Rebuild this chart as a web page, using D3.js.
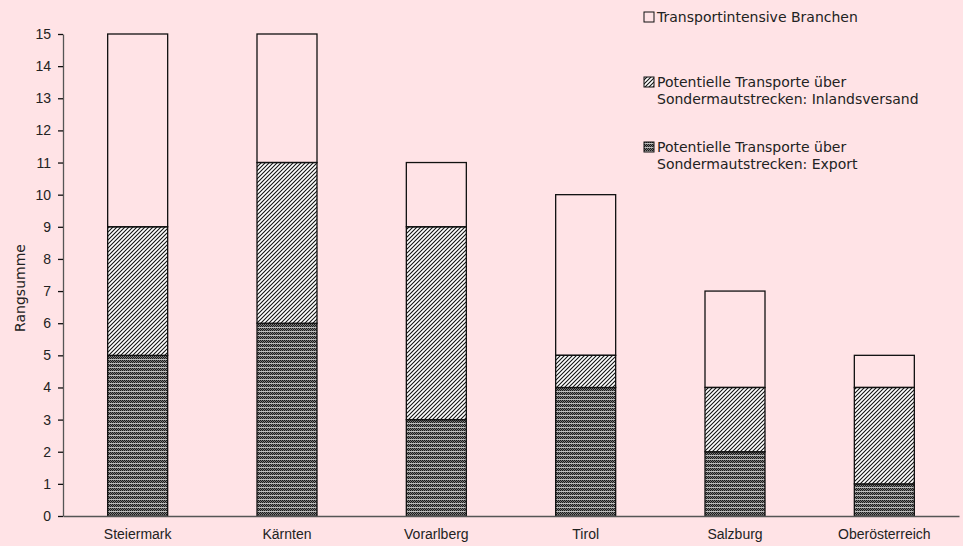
<!DOCTYPE html>
<html>
<head>
<meta charset="utf-8">
<script src="https://cdn.jsdelivr.net/npm/d3@7"></script>
<style>
  body { margin: 0; background: #ffe3e6; }
  svg { display: block; font-family: "DejaVu Sans", sans-serif; }
  .axis text { font-size: 14px; fill: #222; }
</style>
</head>
<body>
<div class="chart"></div>
<script>
const regions = ['Steiermark', 'Kärnten', 'Vorarlberg', 'Tirol', 'Salzburg', 'Oberösterreich'];
const exportVals = [5, 6, 3, 4, 2, 1];
const inlandVals = [4, 5, 6, 1, 2, 3];
const branchVals = [6, 4, 2, 5, 3, 1];
const yTicks = d3.range(0, 16);
const seriesNames = [
  ['Transportintensive Branchen'],
  ['Potentielle Transporte über', 'Sondermautstrecken: Inlandsversand'],
  ['Potentielle Transporte über', 'Sondermautstrecken: Export']
];

const w = 963;
const h = 546;
const margin = { top: 34, right: 4, bottom: 30, left: 63 };

const data = regions.map((r, i) => ({
  region: r, exp: exportVals[i], inl: inlandVals[i], br: branchVals[i]
}));

const svg = d3.select('.chart')
              .append('svg')
              .attr('width', w)
              .attr('height', h);

const defs = svg.append('defs');

// dark dithered fill for export
const pExp = defs.append('pattern')
                 .attr('id', 'pexp')
                 .attr('patternUnits', 'userSpaceOnUse')
                 .attr('width', 2)
                 .attr('height', 4);
pExp.append('rect').attr('width', 2).attr('height', 4).attr('fill', '#7a7a7a');
pExp.append('rect').attr('x', 0).attr('y', 0).attr('width', 1).attr('height', 1).attr('fill', '#1a1a1a');
pExp.append('rect').attr('x', 1).attr('y', 1).attr('width', 1).attr('height', 1).attr('fill', '#1a1a1a');
pExp.append('rect').attr('x', 0).attr('y', 2).attr('width', 1).attr('height', 1).attr('fill', '#1a1a1a');
pExp.append('rect').attr('x', 0).attr('y', 3).attr('width', 2).attr('height', 1).attr('fill', '#bdbdbd');

// diagonal hatch for inland
const pInl = defs.append('pattern')
                 .attr('id', 'pinl')
                 .attr('patternUnits', 'userSpaceOnUse')
                 .attr('width', 4)
                 .attr('height', 4);
pInl.append('rect').attr('width', 4).attr('height', 4).attr('fill', '#fff');
pInl.append('path')
    .attr('d', 'M-1,1 l2,-2 M0,4 l4,-4 M3,5 l2,-2')
    .attr('stroke', '#111')
    .attr('stroke-width', 1.1);

const xScale = d3.scaleBand()
                 .domain(regions)
                 .range([margin.left, w - margin.right])
                 .padding(0);

const yScale = d3.scaleLinear()
                 .domain([0, 15])
                 .range([h - margin.bottom, margin.top]);

const barW = 60;

const layers = [
  { key: 'exp', lo: d => 0, hi: d => d.exp, fill: 'url(#pexp)' },
  { key: 'inl', lo: d => d.exp, hi: d => d.exp + d.inl, fill: 'url(#pinl)' },
  { key: 'br', lo: d => d.exp + d.inl, hi: d => d.exp + d.inl + d.br, fill: 'none' }
];

layers.forEach(l => {
  svg.append('g')
     .selectAll('rect')
     .data(data)
     .enter()
     .append('rect')
     .attr('x', d => xScale(d.region) + xScale.bandwidth() / 2 - barW / 2)
     .attr('y', d => yScale(l.hi(d)))
     .attr('width', barW)
     .attr('height', d => yScale(l.lo(d)) - yScale(l.hi(d)))
     .attr('fill', l.fill)
     .attr('stroke', '#111')
     .attr('stroke-width', 1.3);
});

// y axis
const yAxis = d3.axisLeft(yScale)
                .tickValues(yTicks)
                .tickSize(5)
                .tickSizeOuter(0);

const yg = svg.append('g')
              .attr('class', 'axis')
              .attr('transform', `translate(${margin.left}, 0)`)
              .call(yAxis);
yg.select('.domain').attr('stroke', '#555').attr('stroke-width', 1.3);
yg.selectAll('.tick line').attr('stroke', '#111').attr('stroke-width', 1.3);
yg.selectAll('.tick text').attr('x', -12);

// x axis
const xAxis = d3.axisBottom(xScale)
                .tickSize(0)
                .tickSizeOuter(0);

const xg = svg.append('g')
              .attr('class', 'axis')
              .attr('transform', `translate(0, ${h - margin.bottom})`)
              .call(xAxis);
xg.select('.domain').attr('stroke', '#555').attr('stroke-width', 1.3);
xg.selectAll('.tick text').attr('dy', '1.45em');

svg.append('text')
   .attr('transform', 'rotate(-90)')
   .attr('x', -288)
   .attr('y', 25)
   .style('text-anchor', 'middle')
   .style('font-size', '14px')
   .attr('fill', '#222')
   .text('Rangsumme');

// legend
const legendFills = ['none', 'url(#pinl)', 'url(#pexp)'];
const legendY = [22, 87, 152];
const lg = svg.append('g').attr('transform', 'translate(644, 0)');
seriesNames.forEach((lines, i) => {
  lg.append('rect')
    .attr('x', 0)
    .attr('y', legendY[i] - 10)
    .attr('width', 10)
    .attr('height', 10)
    .attr('fill', legendFills[i])
    .attr('stroke', '#111')
    .attr('stroke-width', 1);
  lines.forEach((t, j) => {
    lg.append('text')
      .attr('x', 13)
      .attr('y', legendY[i] + j * 17)
      .style('font-size', '14px')
      .attr('fill', '#222')
      .text(t);
  });
});
</script>
</body>
</html>
